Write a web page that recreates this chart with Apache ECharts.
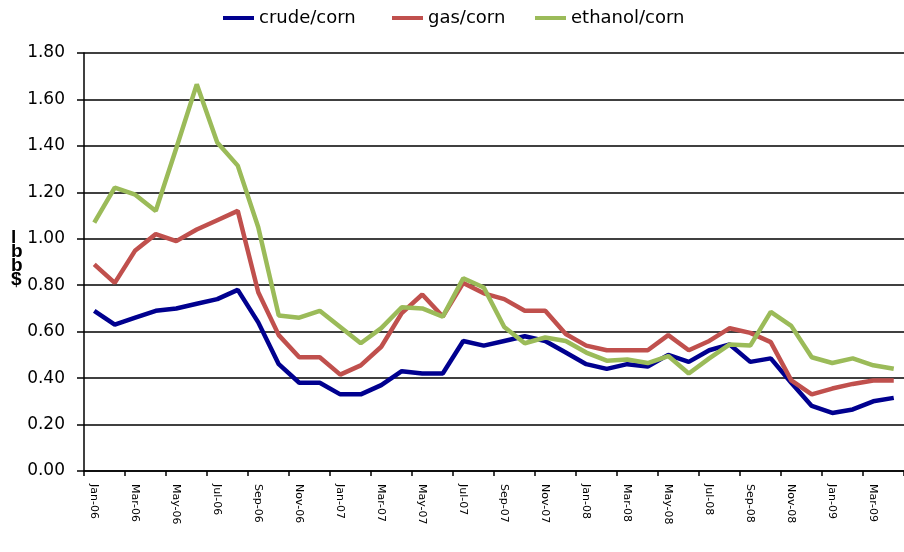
<!DOCTYPE html>
<html>
<head>
<meta charset="utf-8">
<script src="https://cdn.jsdelivr.net/npm/echarts@6/dist/echarts.min.js"></script>
<style>
  html, body { margin: 0; padding: 0; background: #fff; }
  #chart { width: 904px; height: 552px; }
</style>
</head>
<body>
<div id="chart"></div>
<script>
// monthly, Jan 2006 .. Apr 2009
const months = ['Jan', 'Feb', 'Mar', 'Apr', 'May', 'Jun', 'Jul', 'Aug', 'Sep', 'Oct', 'Nov', 'Dec']
const years = ['06', '07', '08', '09']
const categories = []
years.forEach((yy) => months.forEach((mm) => categories.push(mm + '-' + yy)))
categories.length = 40

const crudeCorn = [
  0.69, 0.63, 0.66, 0.69, 0.70, 0.72, 0.74, 0.78, 0.64, 0.46,
  0.38, 0.38, 0.33, 0.33, 0.37, 0.43, 0.42, 0.42, 0.56, 0.54,
  0.56, 0.58, 0.56, 0.51, 0.46, 0.44, 0.46, 0.45, 0.50, 0.47,
  0.52, 0.545, 0.47, 0.485, 0.38, 0.28, 0.25, 0.265, 0.30, 0.315
]
const gasCorn = [
  0.89, 0.81, 0.95, 1.02, 0.99, 1.04, 1.08, 1.12, 0.77, 0.585,
  0.49, 0.49, 0.415, 0.455, 0.535, 0.68, 0.76, 0.665, 0.81, 0.765,
  0.74, 0.69, 0.69, 0.59, 0.54, 0.52, 0.52, 0.52, 0.585, 0.52,
  0.56, 0.615, 0.595, 0.555, 0.39, 0.33, 0.355, 0.375, 0.39, 0.39
]
const ethanolCorn = [
  1.07, 1.22, 1.19, 1.12, 1.39, 1.665, 1.415, 1.315, 1.05, 0.67,
  0.66, 0.69, 0.62, 0.55, 0.615, 0.705, 0.70, 0.665, 0.83, 0.79,
  0.62, 0.55, 0.575, 0.56, 0.51, 0.475, 0.48, 0.465, 0.495, 0.42,
  0.485, 0.545, 0.54, 0.685, 0.625, 0.49, 0.465, 0.485, 0.455, 0.44
]
const seriesNames = ['crude/corn', 'gas/corn', 'ethanol/corn']
const seriesColors = ['#00008f', '#c0504d', '#9bbb59']
const seriesValues = [crudeCorn, gasCorn, ethanolCorn]

const yTicks = { min: 0, max: 1.8, interval: 0.2 }
const yNameGlyphs = ['l', 'b', 'b', '$']

const font = 'DejaVu Sans'
const chart = echarts.init(document.getElementById('chart'))

const legendLefts = [223, 392, 535]

chart.setOption({
  backgroundColor: '#fff',
  animation: false,
  legend: seriesNames.map((name, i) => ({
    left: legendLefts[i],
    top: 9,
    padding: 0,
    data: [name],
    icon: 'rect',
    itemWidth: 31,
    itemHeight: 4,
    selectedMode: false,
    textStyle: { color: '#000', fontSize: 18, fontFamily: font }
  })),
  grid: { left: 84, top: 53, width: 832, height: 418 },
  xAxis: {
    type: 'category',
    data: categories,
    boundaryGap: true,
    axisLine: { lineStyle: { color: '#000', width: 1.5 } },
    axisTick: { show: true, interval: 1, length: 5, lineStyle: { color: '#000', width: 1.5 } },
    axisLabel: { interval: 1, rotate: -90, margin: 13, color: '#000', fontSize: 11, fontFamily: font }
  },
  yAxis: {
    type: 'value',
    min: yTicks.min,
    max: yTicks.max,
    interval: yTicks.interval,
    axisLine: { show: true, lineStyle: { color: '#000', width: 1.5 } },
    axisTick: { show: true, length: 7, lineStyle: { color: '#000', width: 1.5 } },
    axisLabel: { margin: 19, color: '#000', fontSize: 17, fontFamily: font, formatter: (v) => v.toFixed(2) },
    splitLine: { lineStyle: { color: '#000', width: 1.5 } }
  },
  graphic: [{
    type: 'text',
    left: 11,
    top: 228,
    style: {
      text: yNameGlyphs.join('\n'),
      fontSize: 19,
      fontWeight: 'bold',
      fontFamily: 'Liberation Sans',
      lineHeight: 14,
      fill: '#000'
    }
  }],
  series: seriesNames.map((name, i) => ({
    name,
    type: 'line',
    data: seriesValues[i],
    symbol: 'none',
    color: seriesColors[i],
    lineStyle: { width: 4.5, color: seriesColors[i] }
  }))
})
</script>
</body>
</html>
